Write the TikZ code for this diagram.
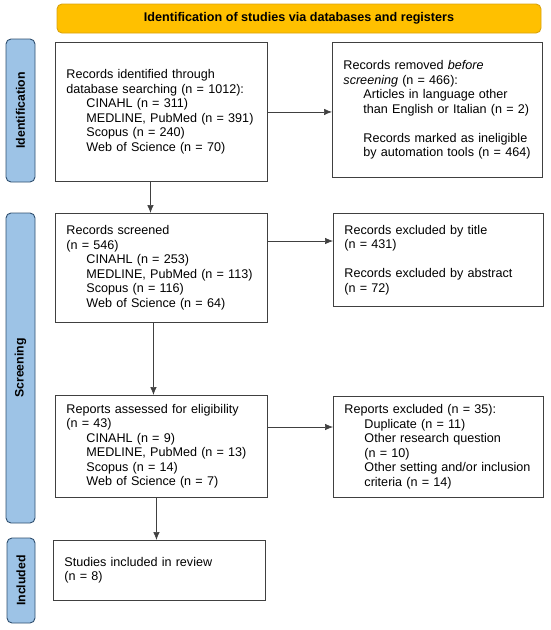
\documentclass[tikz,border=0pt]{standalone}
\usepackage{fontspec}
\setmainfont{Liberation Sans}
\usetikzlibrary{arrows.meta}
\definecolor{bannerfill}{HTML}{FFC000}
\definecolor{bannerline}{HTML}{D9A30F}
\definecolor{phasefill}{HTML}{9DC3E6}
\definecolor{phaseline}{HTML}{2F4F6F}
\definecolor{boxline}{HTML}{404040}
\newcommand{\indt}{\hspace*{20pt}}

\begin{document}
\begin{tikzpicture}[x=1pt,y=-1pt]
\tikzset{box/.style = {draw=boxline, line width=0.9pt, anchor=north west, align=left, inner xsep=11pt, inner ysep=0pt, font=\fontsize{12.6}{14.5}\selectfont}}
\tikzset{phase/.style = {draw=phaseline, fill=phasefill, line width=0.9pt, rounded corners=5pt, rotate=90, font=\fontsize{12.3}{14}\selectfont\bfseries}}
\tikzset{banner/.style = {draw=bannerline, fill=bannerfill, line width=0.9pt, rounded corners=5pt, font=\fontsize{12.6}{14.5}\selectfont\bfseries}}
\tikzset{edge/.style = {-{Latex[length=8pt,width=6.5pt]}, draw=black!75, line width=0.7pt}}
\useasboundingbox (0,0) rectangle (550,630);

% header and phases
\node[banner, minimum width=484pt, minimum height=29pt] (title) at (299,18.5) {Identification of studies via databases and registers};
\node[phase, minimum width=143pt, minimum height=29pt] (idphase) at (20.5,110.5) {Identification};
\node[phase, minimum width=310pt, minimum height=29pt] (scphase) at (20.5,368) {Screening};
\node[phase, minimum width=85pt, minimum height=28pt] (inphase) at (21,580.5) {Included};

% boxes
\node[box, text width=190pt, minimum height=139pt] (ident) at (55,42) {Records identified through\\database searching (n = 1012):\\\indt CINAHL (n = 311)\\\indt MEDLINE, PubMed (n = 391)\\\indt Scopus (n = 240)\\\indt Web of Science (n = 70)};
\node[box, text width=188pt, minimum height=135pt] (removed) at (332,42) {Records removed \textit{before}\\\textit{screening} (n = 466):\\\indt Articles in language other\\\indt than English or Italian (n = 2)\\[14.5pt]\indt Records marked as ineligible\\\indt by automation tools (n = 464)};
\node[box, text width=190pt, minimum height=109pt] (screened) at (55,213) {Records screened\\(n = 546)\\\indt CINAHL (n = 253)\\\indt MEDLINE, PubMed (n = 113)\\\indt Scopus (n = 116)\\\indt Web of Science (n = 64)};
\node[box, text width=188pt, minimum height=93pt] (excl) at (333,213) {Records excluded by title\\(n = 431)\\[14.5pt]Records excluded by abstract\\(n = 72)};
\node[box, text width=190pt, minimum height=102pt] (assessed) at (55,395) {Reports assessed for eligibility\\(n = 43)\\\indt CINAHL (n = 9)\\\indt MEDLINE, PubMed (n = 13)\\\indt Scopus (n = 14)\\\indt Web of Science (n = 7)};
\node[box, text width=188pt, minimum height=101pt] (reports) at (333,396) {Reports excluded (n = 35):\\\indt Duplicate (n = 11)\\\indt Other research question\\\indt (n = 10)\\\indt Other setting and/or inclusion\\\indt criteria (n = 14)};
\node[box, text width=190pt, minimum height=60pt] (included) at (53,540) {Studies included in review\\(n = 8)};

% connectors
\coordinate (d1) at ([xshift=-11pt]ident.south);
\coordinate (d2) at ([xshift=-8pt]screened.south);
\coordinate (d3) at ([xshift=-5pt]assessed.south);
\coordinate (r2) at ([yshift=-28pt]screened.north east);
\coordinate (r3) at ([yshift=-32pt]assessed.north east);
\draw[edge] (ident.east) -- (ident.east -| removed.west);
\draw[edge] (r2) -- (r2 -| excl.west);
\draw[edge] (r3) -- (r3 -| reports.west);
\draw[edge] (d1) -- (d1 |- screened.north);
\draw[edge] (d2) -- (d2 |- assessed.north);
\draw[edge] (d3) -- (d3 |- included.north);
\end{tikzpicture}
\end{document}
